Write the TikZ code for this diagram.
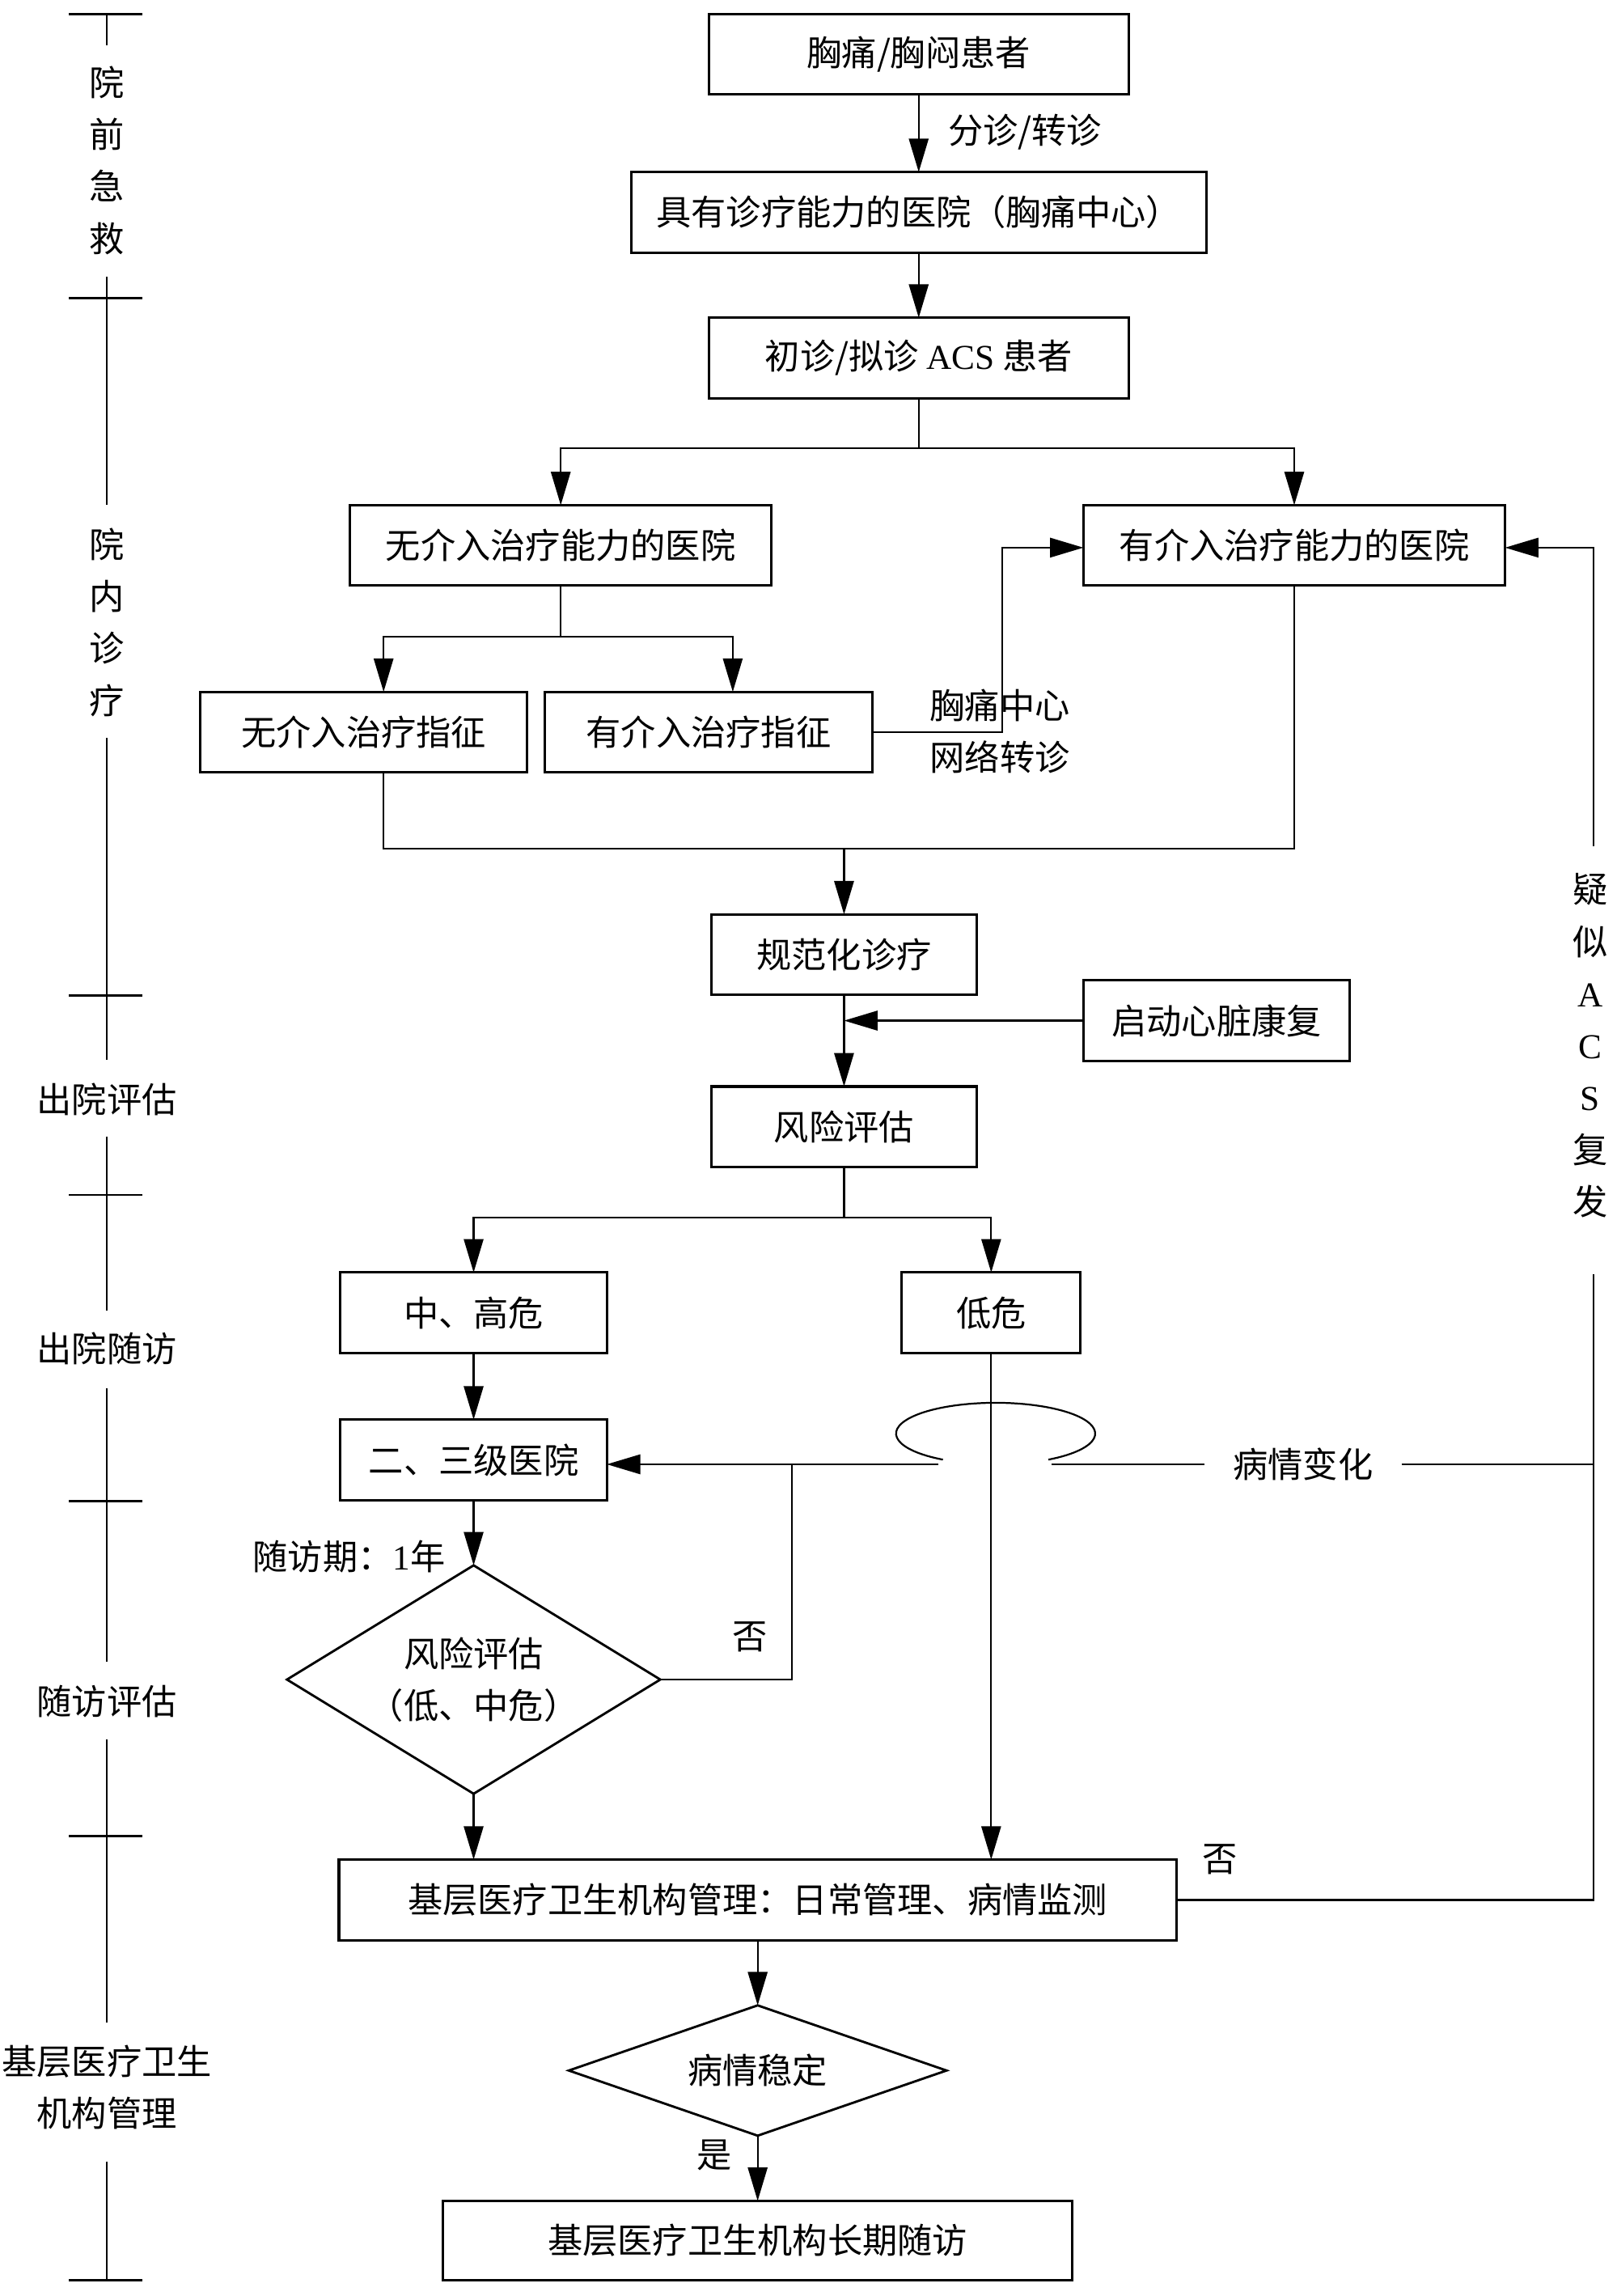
\documentclass[tikz,border=0pt]{standalone}
\usepackage{fontspec}
\setmainfont{Noto Sans CJK SC}
\newfontfamily\lat{Liberation Serif}
\usetikzlibrary{arrows.meta,shapes.geometric}
\def\U{0.02cm}
\tikzset{
  box/.style={draw, line width=0.95pt, rectangle, inner sep=0pt, outer sep=0pt, minimum height=55*\U, align=center},
  dia/.style={draw, line width=0.9pt, diamond, inner sep=0pt, outer sep=0pt, align=center},
  conn/.style={line width=0.7pt},
  arr/.style={line width=0.7pt, -{Triangle[length=13pt,width=7.6pt]}},
  lbl/.style={inner sep=0pt, outer sep=0pt, align=center},
}
\begin{document}
\begin{tikzpicture}[x=0.02cm, y=-0.02cm, font=\fontsize{13.6pt}{20.2pt}\selectfont]
\useasboundingbox (0,0) rectangle (1104,1568);
\fill[white] (0,0) rectangle (1104,1568);

% ---------- left time line ----------
\foreach \t in {9.5,203.5,680,816,1025,1254,1557}
  \draw[line width=0.9pt] (47,\t) -- (97,\t);
\draw[conn] (73,9.5) -- (73,31);
\draw[conn] (73,189) -- (73,345);
\draw[conn] (73,504) -- (73,724);
\draw[conn] (73,776) -- (73,895);
\draw[conn] (73,948) -- (73,1135);
\draw[conn] (73,1188) -- (73,1381);
\draw[conn] (73,1476) -- (73,1557);
\node[lbl] (p1) at (73,109.5) {院\\前\\急\\救};
\node[lbl] (p2) at (73,425) {院\\内\\诊\\疗};
\node[lbl] (p3) at (73,751) {出院评估};
\node[lbl] (p4) at (73,921) {出院随访};
\node[lbl] (p5) at (73,1162) {随访评估};
\node[lbl] (p6) at (73,1425.5) {基层医疗卫生\\机构管理};

% ---------- boxes ----------
\node[box, minimum width=287*\U] (b1) at (627.5,37) {胸痛/胸闷患者};
\node[box, minimum width=393*\U] (b2) at (627.5,145) {具有诊疗能力的医院（胸痛中心）};
\node[box, minimum width=287*\U] (b3) at (627.5,244.5) {初诊/拟诊 {\lat ACS} 患者};
\node[box, minimum width=288*\U] (b4) at (383,372.5) {无介入治疗能力的医院};
\node[box, minimum width=288*\U] (b5) at (884,372.5) {有介入治疗能力的医院};
\node[box, minimum width=223*\U] (b6) at (248.5,500) {无介入治疗指征};
\node[box, minimum width=224*\U] (b7) at (484,500) {有介入治疗指征};
\node[box, minimum width=181*\U] (b8) at (576.5,652) {规范化诊疗};
\node[box, minimum width=182*\U] (b9) at (831,697) {启动心脏康复};
\node[box, minimum width=181*\U] (b10) at (576.5,769.5) {风险评估};
\node[box, minimum width=182*\U] (b11) at (323.5,896.5) {中、高危};
\node[box, minimum width=122*\U] (b12) at (677,896.5) {低危};
\node[box, minimum width=182*\U] (b13) at (323.5,997) {二、三级医院};
\node[dia, aspect=1.63, minimum width=255*\U, minimum height=156*\U] (d1) at (323.5,1147) {风险评估\\（低、中危）};
\node[box, minimum width=572*\U] (b14) at (517.5,1297.5) {基层医疗卫生机构管理：日常管理、病情监测};
\node[dia, aspect=2.9, minimum width=258*\U, minimum height=89*\U] (d2) at (517.5,1414) {病情稳定};
\node[box, minimum width=430*\U, minimum height=54*\U] (b15) at (517.5,1530) {基层医疗卫生机构长期随访};

% ---------- labels ----------
\node[lbl] (t1) at (700,90) {分诊/转诊};
\node[lbl] (t2) at (683,499.5) {胸痛中心\\网络转诊};
\node[lbl] (t3) at (1086,714) {疑\\似\\{\lat A}\\{\lat C}\\{\lat S}\\复\\发};
\node[lbl, fill=white, inner xsep=19.5*\U] (t4) at (890,1000) {病情变化};
\node[lbl] (t5) at (238.5,1063) {随访期：{\lat 1}年};
\node[lbl] (t6) at (512,1118) {否};
\node[lbl] (t7) at (833,1270) {否};
\node[lbl] (t8) at (488,1472) {是};

% ---------- coordinates ----------
\coordinate (s1) at (627.5,306);
\coordinate (s2) at (383,435);
\coordinate (j1) at (576.5,579.5);
\coordinate (k1) at (684.5,500);
\coordinate (s3) at (576.5,831.5);
\coordinate (L1) at (641,1000);
\coordinate (L2) at (718,1000);
\coordinate (m1) at (541,1000);
\coordinate (r0) at (1088.5,1297.5);
\coordinate (r1) at (1088.5,1000);
\coordinate (r2) at (1088.5,870);
\coordinate (r3) at (1088.5,578);

% ---------- connectors ----------
\draw[arr] (b1.south) -- (b2.north);
\draw[arr] (b2.south) -- (b3.north);
\draw[conn] (b3.south) -- (s1);
\draw[arr] (s1) -| (b4.north);
\draw[arr] (s1) -| (b5.north);
\draw[conn] (b4.south) -- (s2);
\draw[arr] (s2) -| ([xshift=13.5*\U]b6.north);
\draw[arr] (s2) -| ([xshift=16.5*\U]b7.north);
\draw[conn] ([xshift=13.5*\U]b6.south) |- (j1);
\draw[conn] (b5.south) |- (j1);
\draw[arr] (j1) -- (b8.north);
\draw[arr] (b7.east) -- (k1) |- ([yshift=-1.5*\U]b5.west);
\draw[arr] (b8.south) -- (b10.north);
\draw[arr] (b9.west) -- (b9.west -| b8.south);
\draw[conn] (b10.south) -- (s3);
\draw[arr] (s3) -| (b11.north);
\draw[arr] (s3) -| (b12.north);
\draw[arr] (b11.south) -- (b13.north);
\draw[arr] (b12.south) -- (b12.south |- b14.north);
% loop (line hop) and 病情变化
\draw[conn] (644,996.8) arc[start angle=238, end angle=-58, x radius=68*\U, y radius=21*\U];
\draw[arr] (L1) -- (L1 -| b13.east);
\draw[conn] (L2) -- (t4.west);
\draw[conn] (t4.east) -- (r1);
\draw[conn] (m1) |- (d1.east);
\draw[arr] (b13.south) -- (d1.north);
\draw[arr] (d1.south) -- (d1.south |- b14.north);
\draw[conn] (b14.east) -- (r0) -- (r2);
\draw[arr] (r3) |- ([yshift=-1.5*\U]b5.east);
\draw[arr] (b14.south) -- (d2.north);
\draw[arr] (d2.south) -- (b15.north);
\end{tikzpicture}
\end{document}
